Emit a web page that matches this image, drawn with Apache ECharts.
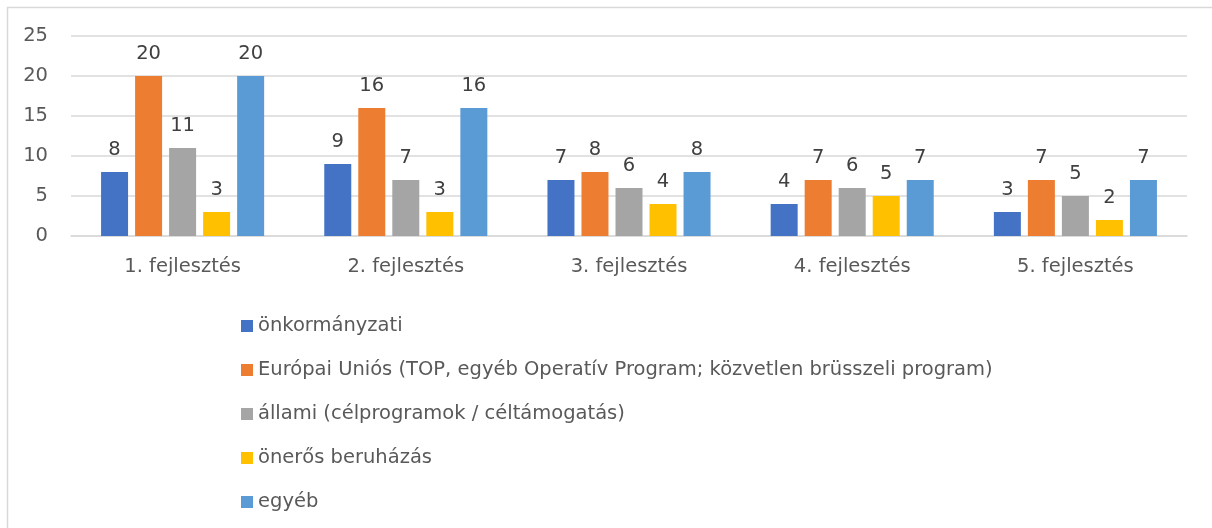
<!DOCTYPE html>
<html>
<head>
<meta charset="utf-8">
<style>
  html, body { margin: 0; padding: 0; background: #ffffff; overflow: hidden; }
  #chart { width: 1212px; height: 528px; }
</style>
<script src="https://cdn.jsdelivr.net/npm/echarts@6/dist/echarts.min.js"></script>
</head>
<body>
<div id="chart"></div>
<script>
// Categories and values per funding source
const categories = ['1. fejlesztés', '2. fejlesztés', '3. fejlesztés', '4. fejlesztés', '5. fejlesztés'];
const seriesNames = [
  'önkormányzati',
  'Európai Uniós (TOP, egyéb Operatív Program; közvetlen brüsszeli program)',
  'állami (célprogramok / céltámogatás)',
  'önerős beruházás',
  'egyéb'
];
const onkormanyzati = [8, 9, 7, 4, 3];
const europaiUnios = [20, 16, 8, 7, 7];
const allami = [11, 7, 6, 6, 5];
const oneros = [3, 3, 4, 5, 2];
const egyeb = [20, 16, 8, 7, 7];
const yTicks = [0, 5, 10, 15, 20, 25];

const colors = ['#4472C4', '#ED7D31', '#A5A5A5', '#FFC000', '#5B9BD5'];
const values = [onkormanyzati, europaiUnios, allami, oneros, egyeb];
const FONT = '"DejaVu Sans", sans-serif';
const FONT_SIZE = 19.5;

const chart = echarts.init(document.getElementById('chart'), null, { renderer: 'canvas' });

chart.setOption({
  animation: false,
  backgroundColor: '#ffffff',
  color: colors,
  graphic: [{
    // chart area frame, open to the right and bottom
    type: 'polyline',
    shape: { points: [[7.5, 600], [7.5, 7.5], [1212, 7.5]] },
    style: { fill: 'none', stroke: '#D9D9D9', lineWidth: 1.5 },
    silent: true,
    z: -1
  }],
  grid: { left: 71, right: 25, top: 36, height: 200, containLabel: false },
  legend: {
    orient: 'vertical',
    left: 236,
    top: 311,
    itemWidth: 12,
    itemHeight: 12,
    itemGap: 24,
    icon: 'rect',
    textStyle: { fontFamily: FONT, fontSize: FONT_SIZE, color: '#595959', lineHeight: 20, padding: [0, 0, 0, 0] },
    data: seriesNames
  },
  xAxis: {
    type: 'category',
    data: categories,
    axisLine: { lineStyle: { color: '#D9D9D9', width: 1.5 } },
    axisTick: { show: false },
    axisLabel: { fontFamily: FONT, fontSize: FONT_SIZE, color: '#595959', margin: 21 }
  },
  yAxis: {
    type: 'value',
    min: yTicks[0],
    max: yTicks[yTicks.length - 1],
    interval: yTicks[1] - yTicks[0],
    axisLine: { show: false },
    axisTick: { show: false },
    splitLine: { lineStyle: { color: '#D9D9D9', width: 1.5 } },
    axisLabel: { fontFamily: FONT, fontSize: FONT_SIZE, color: '#595959', margin: 23 }
  },
  series: seriesNames.map((name, i) => ({
    name: name,
    type: 'bar',
    data: values[i],
    barWidth: 27,
    barGap: '26%',
    itemStyle: { color: colors[i] },
    label: {
      show: true,
      position: 'top',
      distance: 12,
      fontFamily: FONT,
      fontSize: FONT_SIZE,
      color: '#404040'
    }
  }))
});
</script>
</body>
</html>
